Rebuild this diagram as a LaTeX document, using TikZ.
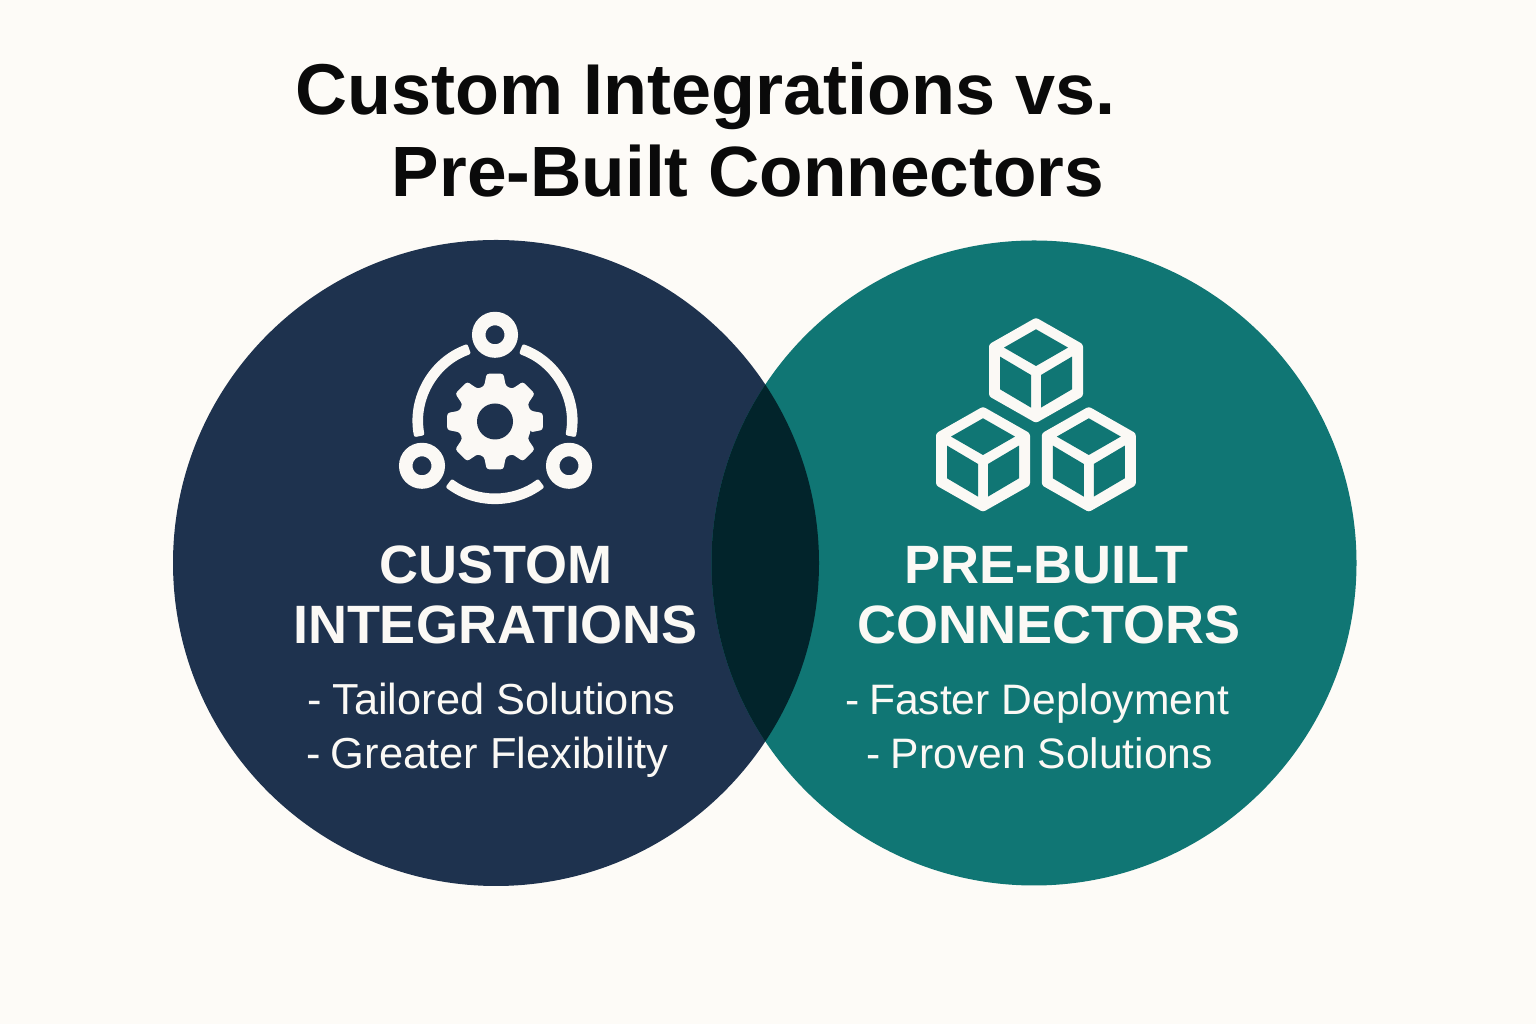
\documentclass[tikz,border=0pt]{standalone}
\usepackage{fontspec}
\setmainfont{Liberation Sans}
\definecolor{pagebg}{HTML}{FDFBF7}
\definecolor{navy}{HTML}{1E324E}
\definecolor{teal2}{HTML}{107674}
\definecolor{deep}{HTML}{02242B}
\definecolor{ink}{HTML}{0A0A0A}
\definecolor{iconw}{HTML}{FBF9F5}
\tikzset{
  x=1pt,y=1pt,
  titletext/.style={anchor=base,inner sep=0pt,text=ink,font=\fontsize{#1}{72}\selectfont\bfseries},
  headtext/.style={anchor=base,inner sep=0pt,text=iconw,font=\fontsize{54}{54}\selectfont\bfseries},
  bodytext/.style={anchor=base,inner sep=0pt,text=iconw,font=\fontsize{#1}{44}\selectfont},
  ring/.style={draw=iconw,line width=13.5pt},
}
\newcommand{\cubeicon}[2]{%
  \begin{scope}[shift={(#1,#2)}]
    \fill[iconw,rounded corners=2.5pt] (0,52.7) -- (47,26) -- (47,-26) -- (0,-52.7) -- (-47,-26) -- (-47,26) -- cycle;
    \fill[teal2] (0,41) -- (32,22.7) -- (0,4.3) -- (-32,22.7) -- cycle;
    \fill[teal2] (-36,13.7) -- (-5,-4.7) -- (-5,-37.3) -- (-36,-19) -- cycle;
    \fill[teal2] (36,13.7) -- (5,-4.7) -- (5,-37.3) -- (36,-19) -- cycle;
  \end{scope}}
\begin{document}
\begin{tikzpicture}
\useasboundingbox (0,0) rectangle (1536,1024);
\fill[pagebg] (0,0) rectangle (1536,1024);
\node[circle,minimum size=646pt,inner sep=0pt,outer sep=0pt,fill=navy] (customc) at (496,461) {};
\node[circle,minimum size=645pt,inner sep=0pt,outer sep=0pt,fill=teal2] (prebuiltc) at (1034,461) {};
\begin{scope}
  \clip (496,461) circle (323);
  \fill[deep] (1034,461) circle (322.5);
\end{scope}
\node[titletext=72] (t1) at (705.5,909) {Custom Integrations vs.};
\node[titletext=71.2] (t2) at (748,827) {Pre-Built Connectors};
% gear icon
\begin{scope}[shift={(495,602.5)}]
  \fill[iconw,rounded corners=2.5pt]
    (-17:37) \foreach \a in {0,45,...,315} { -- (\a-17:37) -- (\a-10:48.5) -- (\a+10:48.5) -- (\a+17:37) } -- cycle;
  \fill[navy] (0,0) circle (18);
  \fill[iconw,rounded corners=2pt] (109.6:71.7) arc (109.6:191:71.7) -- (191:82.3) arc (191:109.6:82.3) -- cycle;
  \fill[iconw,rounded corners=2pt] (70.4:71.7) arc (70.4:-11:71.7) -- (-11:82.3) arc (-11:70.4:82.3) -- cycle;
  \fill[iconw,rounded corners=2pt] (233:71.7) arc (233:307:71.7) -- (307:82.3) arc (307:233:82.3) -- cycle;
  \draw[ring] (0,86.7) circle (16.25);
  \draw[ring] (-73,-44.3) circle (16.25);
  \draw[ring] (74,-44.3) circle (16.25);
\end{scope}
\cubeicon{1036}{653.7}
\cubeicon{983}{564.7}
\cubeicon{1088.8}{564.7}
\node[headtext] (h1) at (496,440) {CUSTOM};
\node[headtext] (h2) at (495,380.5) {INTEGRATIONS};
\node[bodytext=43.4] (b1) at (491.5,309.5) {-\kern-2pt{} Tailored Solutions};
\node[bodytext=43.4] (b2) at (487.5,255.5) {-\kern-2pt{} Greater Flexibility};
\node[headtext] (h3) at (1046,440) {PRE-BUILT};
\node[headtext] (h4) at (1049,380.5) {CONNECTORS};
\node[bodytext=42.6] (b3) at (1037,309.5) {-\kern-2pt{} Faster Deployment};
\node[bodytext=42.6] (b4) at (1040,255.5) {-\kern-2pt{} Proven Solutions};
\end{tikzpicture}
\end{document}
